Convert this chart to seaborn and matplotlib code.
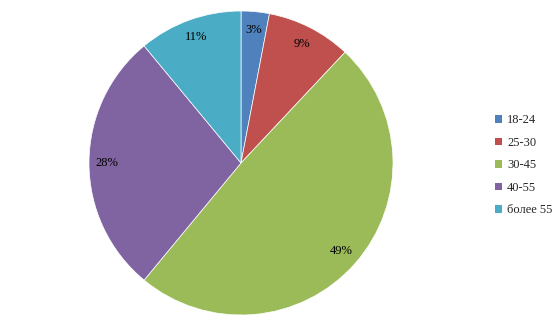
import matplotlib
matplotlib.use("Agg")
import matplotlib.pyplot as plt
import seaborn as sns
from matplotlib.patches import Patch

sns.set_style("white")
plt.rcParams['font.family'] = ['Liberation Serif', 'DejaVu Serif']

categories = ["18-24", "25-30", "30-45", "40-55", "более 55"]
values = [3, 9, 49, 28, 11]
colors = ["#4F81BD", "#C0504D", "#9BBB59", "#8064A2", "#4BACC6"]

W, H = 559, 329
fig = plt.figure(figsize=(W / 100, H / 100), dpi=100)
cx, cy, r = 241, 163, 152
ax = fig.add_axes([(cx - r) / W, (H - cy - r) / H, 2 * r / W, 2 * r / H])

wedges, texts, autotexts = ax.pie(
    values, colors=colors, startangle=90, counterclock=False,
    autopct=lambda p: f"{p:.0f}%", pctdistance=0.88,
    wedgeprops=dict(linewidth=0.5, edgecolor="white"),
    textprops=dict(fontsize=9, color="black"),
)
ax.set_aspect("equal")
ax.set_xlim(-1, 1)
ax.set_ylim(-1, 1)
ax.axis("off")

handles = [Patch(facecolor=c, edgecolor="none") for c in colors]
fig.legend(handles, categories, loc="center left", bbox_to_anchor=(0.876, 0.497),
           frameon=False, fontsize=9, handlelength=0.55, handleheight=0.55,
           handletextpad=0.45, labelspacing=0.84, borderaxespad=0)

fig.savefig("out.png", dpi=100)
